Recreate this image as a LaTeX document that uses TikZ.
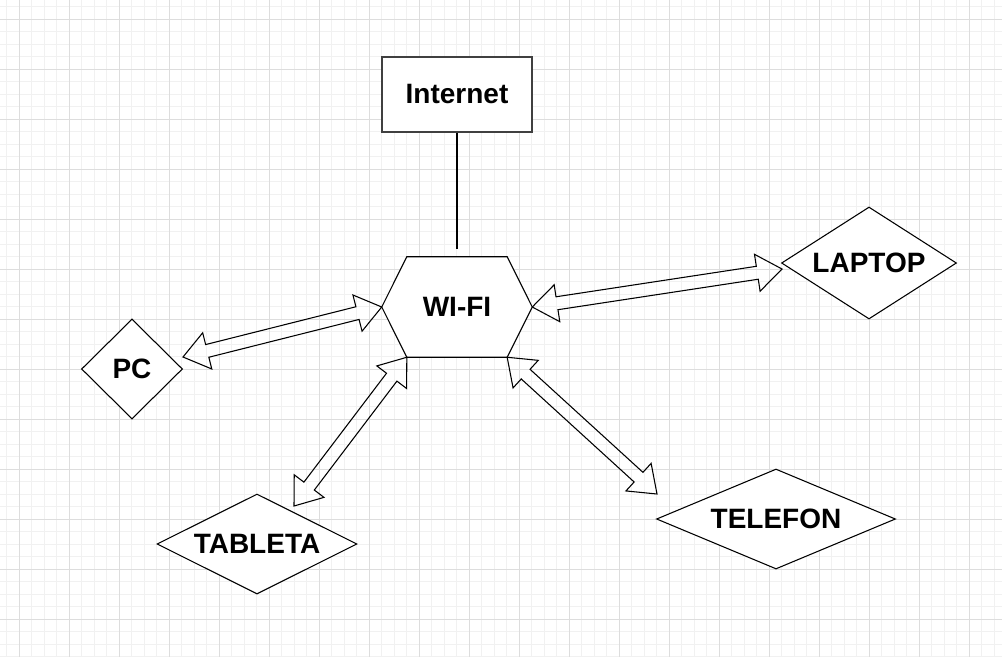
\documentclass[tikz,border=0pt]{standalone}
\usepackage{fontspec}
\setmainfont{Liberation Sans}
\usetikzlibrary{shapes.geometric,calc}

\definecolor{gridmajor}{HTML}{DDDDDD}
\definecolor{gridminor}{HTML}{F1F1F1}

% hollow double arrow between two points
\newcommand{\dblarrow}[2]{%
  \coordinate (hA) at ($(#1)!18.75pt!(#2)$);
  \coordinate (hB) at ($(#2)!18.75pt!(#1)$);
  \draw[flex] (#1) -- ($(hA)!14pt!90:(#2)$) -- ($(hA)!4.9pt!90:(#2)$)
    -- ($(hB)!4.9pt!-90:(#1)$) -- ($(hB)!14pt!-90:(#1)$) -- (#2)
    -- ($(hB)!14pt!90:(#1)$) -- ($(hB)!4.9pt!90:(#1)$)
    -- ($(hA)!4.9pt!-90:(#2)$) -- ($(hA)!14pt!-90:(#2)$) -- cycle;
}

\begin{document}
\begin{tikzpicture}[x=0.75pt,y=-0.75pt,
    minorline/.style={gridminor,line width=0.75pt},
    majorline/.style={gridmajor,line width=0.75pt},
    label/.style={font=\fontsize{21}{25}\selectfont\bfseries},
    box/.style={draw=black!75,fill=white,line width=0.8pt,label,
      minimum width=112.5pt,minimum height=56.25pt,inner sep=0pt},
    device/.style={diamond,draw,fill=white,line width=0.8pt,label,inner sep=0pt},
    flex/.style={draw,line width=0.8pt,line join=miter},
    link/.style={line width=1.5pt}]
  \fill[white] (0,0) rectangle (1002,657);
  \useasboundingbox (0,0) rectangle (1002,657);
  % background grid
  \foreach \k in {0,...,79}
    \draw[minorline] ({6.8+12.5*\k},0) -- ({6.8+12.5*\k},657);
  \foreach \k in {0,...,52}
    \draw[minorline] (0,{6.8+12.5*\k}) -- (1002,{6.8+12.5*\k});
  \foreach \k in {0,...,19}
    \draw[majorline] ({19.3+50*\k},0) -- ({19.3+50*\k},657);
  \foreach \k in {0,...,12}
    \draw[majorline] (0,{19.3+50*\k}) -- (1002,{19.3+50*\k});

  \node[box](internet) at (457,94.5) {Internet};

  \node[minimum width=112.5pt,minimum height=75pt,inner sep=0pt](wifi) at (457,307) {};
  \coordinate (wnw) at ($(wifi.north west)!1/6!(wifi.north east)$);
  \coordinate (wne) at ($(wifi.north east)!1/6!(wifi.north west)$);
  \coordinate (wsw) at ($(wifi.south west)!1/6!(wifi.south east)$);
  \coordinate (wse) at ($(wifi.south east)!1/6!(wifi.south west)$);
  \draw[fill=white,line width=0.8pt] (wifi.west) -- (wnw) -- (wne) -- (wifi.east)
    -- (wse) -- (wsw) -- cycle;
  \node[label] at (wifi.center) {WI-FI};

  \node[device,minimum width=131.25pt,minimum height=84pt](laptop) at (869,263)
    {\makebox[0pt]{LAPTOP}};
  \node[device,minimum width=75.75pt,minimum height=75pt](pc) at (132,369)
    {\makebox[0pt]{PC}};
  \node[device,minimum width=150pt,minimum height=75pt](tableta) at (257,544)
    {\makebox[0pt]{TABLETA}};
  \node[device,minimum width=179.25pt,minimum height=75pt](telefon) at (776,519)
    {\makebox[0pt]{TELEFON}};

  \coordinate (lineend) at (457,249);
  \coordinate (pcend) at (183,357);
  \coordinate (laptopend) at (782,269);
  \coordinate (tabletaend) at (294,506);
  \coordinate (telefonend) at (657,494);

  \draw[link] (internet.south) -- (lineend);
  \dblarrow{pcend}{wifi.west}
  \dblarrow{wifi.east}{laptopend}
  \dblarrow{wsw}{tabletaend}
  \dblarrow{wse}{telefonend}
\end{tikzpicture}
\end{document}
